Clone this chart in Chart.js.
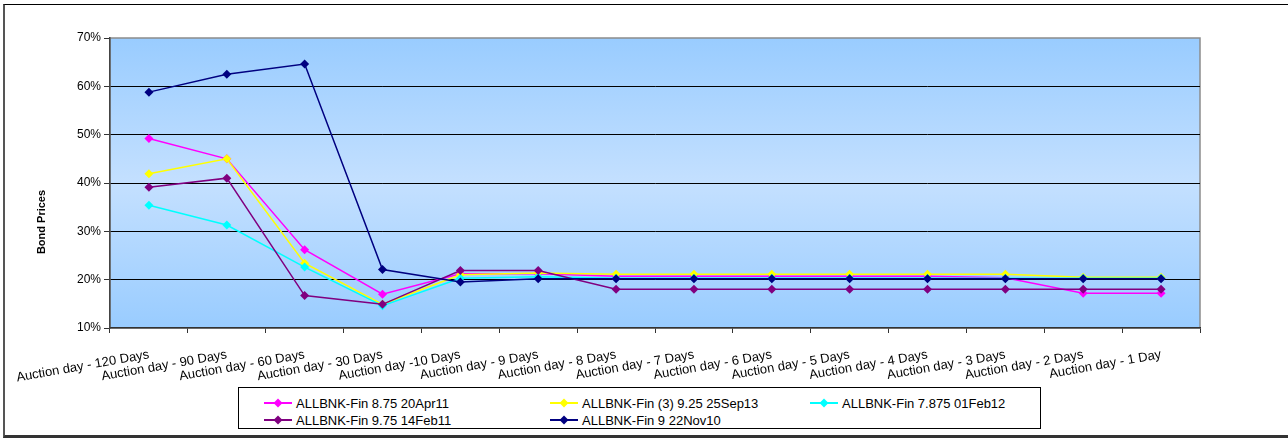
<!DOCTYPE html>
<html>
<head>
<meta charset="utf-8">
<script src="https://cdn.jsdelivr.net/npm/chart.js@4/dist/chart.umd.min.js"></script>
<style>
  body { margin: 0; background: #fff; font-family: "Liberation Sans", Arial, sans-serif; }
  #wrap { position: relative; width: 1288px; height: 438px; overflow: hidden; }
  #frame { position: absolute; left: 3px; top: 4px; width: 1300px; height: 430px;
           border: 1px solid #000; border-left: 2px solid #555; border-bottom: 3px solid #333; }
  #chart { position: absolute; left: 0; top: 0; }
  #legend { position: absolute; left: 238px; top: 387px; width: 801px; height: 40px;
            border: 1px solid #000; background: #fff; font-size: 13px; }
  .item { position: absolute; display: flex; align-items: center; height: 16px; white-space: nowrap; }
  .item svg { margin-right: 3px; }
</style>
</head>
<body>
<div id="wrap">
  <div id="frame"></div>
  <canvas id="chart" width="1288" height="438"></canvas>
  <div id="legend"></div>
</div>
<script>
const categories = ['Auction day - 120 Days', 'Auction day - 90 Days', 'Auction day - 60 Days',
  'Auction day - 30 Days', 'Auction day -10 Days', 'Auction day - 9 Days', 'Auction day - 8 Days',
  'Auction day - 7 Days', 'Auction day - 6 Days', 'Auction day - 5 Days', 'Auction day - 4 Days',
  'Auction day - 3 Days', 'Auction day - 2 Days', 'Auction day - 1 Day'];

const seriesNames = ['ALLBNK-Fin 8.75 20Apr11', 'ALLBNK-Fin (3) 9.25 25Sep13', 'ALLBNK-Fin 7.875 01Feb12',
  'ALLBNK-Fin 9.75 14Feb11', 'ALLBNK-Fin 9 22Nov10'];
const seriesColors = ['#FF00FF', '#FFFF00', '#00FFFF', '#800080', '#000080'];

const fin875 = [49.2, 45.0, 26.2, 17.0, 21.2, 21.2, 20.7, 20.7, 20.7, 20.7, 20.7, 20.4, 17.2, 17.2];
const fin925 = [41.9, 45.0, 23.4, 14.9, 21.0, 21.4, 21.1, 21.1, 21.1, 21.1, 21.1, 21.1, 20.5, 20.5];
const fin7875 = [35.4, 31.3, 22.6, 14.6, 20.3, 20.6, 20.3, 20.3, 20.3, 20.3, 20.3, 20.3, 20.3, 20.3];
const fin975 = [39.1, 41.0, 16.7, 14.9, 21.9, 21.9, 18.0, 18.0, 18.0, 18.0, 18.0, 18.0, 18.0, 18.0];
const fin9 = [58.8, 62.5, 64.6, 22.1, 19.5, 20.2, 20.2, 20.2, 20.2, 20.2, 20.2, 20.2, 20.2, 20.2];

const yTicks = [10, 20, 30, 40, 50, 60, 70];

const seriesValues = [fin875, fin925, fin7875, fin975, fin9];

// plot area gradient + grey border, y title
const plotBg = {
  id: 'plotBg',
  beforeDraw(chart) {
    const { ctx, chartArea: a } = chart;
    const g = ctx.createLinearGradient(0, a.top, 0, a.bottom);
    g.addColorStop(0, '#99CCFF');
    g.addColorStop(0.5, '#C4E0FF');
    g.addColorStop(1, '#99CCFF');
    ctx.save();
    ctx.fillStyle = g;
    ctx.fillRect(a.left, a.top, a.right - a.left, a.bottom - a.top);
    ctx.strokeStyle = '#8C8C8C';
    ctx.lineWidth = 1.5;
    ctx.strokeRect(a.left, a.top, a.right - a.left, a.bottom - a.top);
    ctx.restore();
  },
  afterDraw(chart) {
    const ctx = chart.ctx;
    ctx.save();
    ctx.translate(42, 222);
    ctx.rotate(-Math.PI / 2);
    ctx.font = 'bold 11px "Liberation Sans", Arial, sans-serif';
    ctx.fillStyle = '#000';
    ctx.textAlign = 'center';
    ctx.textBaseline = 'middle';
    ctx.fillText('Bond Prices', 0, 0);
    ctx.restore();
  }
};

const datasets = seriesNames.map((name, i) => ({
  label: name,
  data: seriesValues[i],
  borderColor: seriesColors[i],
  backgroundColor: seriesColors[i],
  borderWidth: 1.5,
  pointStyle: 'rectRot',
  pointRadius: 4.5,
  pointBorderWidth: 0,
  tension: 0,
  order: seriesNames.length - i
}));

const ctx = document.getElementById('chart').getContext('2d');
const chart = new Chart(ctx, {
  type: 'line',
  data: { labels: categories, datasets: datasets },
  options: {
    responsive: false,
    animation: false,
    layout: { padding: { top: 38, left: 10, right: 88, bottom: 55 } },
    plugins: { legend: { display: false }, tooltip: { enabled: false } },
    scales: {
      x: {
        offset: true,
        grid: { offset: true, drawOnChartArea: false, drawTicks: true, tickLength: 5, color: '#333' },
        border: { color: '#333', width: 1.5 },
        ticks: {
          color: '#000', minRotation: 10, maxRotation: 10, autoSkip: false, padding: 14,
          font: { family: '"Liberation Sans", Arial, sans-serif', size: 13 }
        },
        afterFit(s) { s.height = 55; s.paddingLeft = 0; s.paddingRight = 0; }
      },
      y: {
        min: 10, max: 70,
        afterBuildTicks(s) { s.ticks = yTicks.map(v => ({ value: v })); },
        grid: {
          tickLength: 6,
          color: c => (c.tick && (c.tick.value === 10 || c.tick.value === 70)) ? 'rgba(0,0,0,0)' : '#000',
          tickColor: '#333'
        },
        border: { color: '#444', width: 1.5 },
        ticks: {
          color: '#000', padding: 3,
          font: { family: '"Liberation Sans", Arial, sans-serif', size: 12 },
          callback: v => v + '%'
        },
        afterFit(s) { s.width = 100; }
      }
    }
  },
  plugins: [plotBg]
});

// legend in 3 columns like the original
const legend = document.getElementById('legend');
const colX = [24, 310, 570];
const rowY = [7, 24];
seriesNames.forEach((name, i) => {
  const el = document.createElement('div');
  el.className = 'item';
  el.style.left = colX[i % 3] + 'px';
  el.style.top = rowY[Math.floor(i / 3)] + 'px';
  const c = seriesColors[i];
  el.innerHTML = '<svg width="30" height="12"><line x1="1" y1="6" x2="29" y2="6" stroke="' + c +
    '" stroke-width="2"/><polygon points="15,1.5 19.5,6 15,10.5 10.5,6" fill="' + c + '"/></svg>' +
    '<span>' + name + '</span>';
  legend.appendChild(el);
});
</script>
</body>
</html>
